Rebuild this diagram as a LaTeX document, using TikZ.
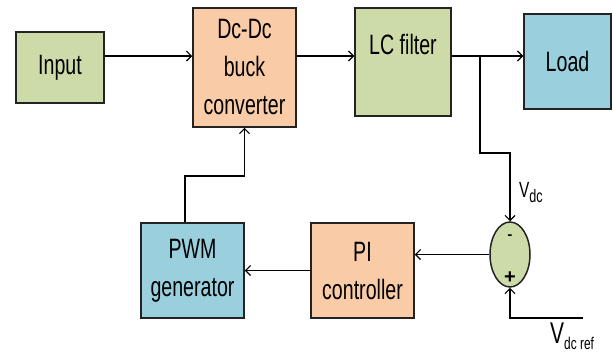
\documentclass[tikz,border=0pt]{standalone}
\usepackage{fontspec}
\setmainfont{Liberation Sans}[FakeStretch=0.7]
\newfontfamily\signfont{Liberation Sans}
\usetikzlibrary{shapes.geometric, arrows.meta, positioning, calc}
\definecolor{cGreen}{RGB}{205,219,169}
\definecolor{cOrange}{RGB}{249,203,166}
\definecolor{cBlue}{RGB}{154,207,222}
\definecolor{cEdge}{RGB}{35,35,35}
\tikzset{
	block/.style={rectangle, draw=cEdge, line width=1.5pt, text centered, align=center, font=\fontsize{28}{38}\selectfont},
	sumnode/.style={ellipse, draw=cEdge, line width=1.5pt, fill=cGreen, minimum width=40pt, minimum height=65pt, inner sep=0pt},
	signlabel/.style={inner sep=0pt, font=\fontsize{20}{20}\selectfont},
	sigarrow/.style={-{Straight Barb[length=5pt, width=10pt]}, line width=1.2pt},
}

\begin{document}
\begin{tikzpicture}[x=1pt, y=-1pt]
	\useasboundingbox (0,0) rectangle (613,354);
	% forward path
	\node[block, fill=cGreen, minimum width=88pt, minimum height=71pt] (input) at (60,67.5) {Input};
	\node[block, fill=cOrange, minimum width=103pt, minimum height=119pt] (buck) at (244.5,67.5) {Dc-Dc\\buck\\converter};
	\node[block, fill=cGreen, minimum width=96pt, minimum height=108pt, text depth=35pt] (lc) at (403,62) {LC filter};
	\node[block, fill=cBlue, minimum width=87pt, minimum height=95pt] (load) at (567.5,61.5) {Load};
	% feedback path
	\node[sumnode] (sum) at (510,254.5) {};
	\node[signlabel, anchor=center, font=\fontsize{22}{22}\selectfont] (minus) at ([yshift=-17pt]sum.north) {-};
	\node[signlabel, anchor=center, font=\signfont\bfseries\fontsize{20}{20}\selectfont] (plus) at ([yshift=10pt]sum.south) {+};
	\node[block, fill=cOrange, minimum width=103pt, minimum height=95pt] (pi) at (362.5,270.5) {PI\\controller};
	\node[block, fill=cBlue, minimum width=103pt, minimum height=95pt] (pwm) at (192.5,270.5) {PWM\\generator};
	% labels
	\node[anchor=base west, inner sep=0pt, font=\fontsize{22}{26}\selectfont] (vdclabel) at (519,197) {V\raisebox{-5pt}{\fontsize{18}{18}\selectfont dc}};
	\node[anchor=base west, inner sep=0pt, font=\fontsize{30}{34}\selectfont] (vreflabel) at (550,343) {V\raisebox{-6pt}{\fontsize{17}{17}\selectfont dc ref}};
	% connectors
	\coordinate (main) at (0,56);
	\coordinate (tap) at (480,56);
	\coordinate (fbturn) at (480,153);
	\coordinate (pwmturn) at (185,176);
	\coordinate (vref) at (583,318);
	\draw[sigarrow] (input.east |- main) -- (buck.west |- main);
	\draw[sigarrow] (buck.east |- main) -- (lc.west |- main);
	\draw[sigarrow] (lc.east |- main) -- (load.west |- main);
	\draw[sigarrow] (tap) -- (fbturn) -| (sum.north);
	\draw[sigarrow] (sum.west) -- (sum.west -| pi.east);
	\draw[sigarrow] (pi.west) -- (pwm.east);
	\draw[sigarrow] (pwm.north -| pwmturn) -- (pwmturn) -| (buck.south);
	\draw[sigarrow] (vref) -| (sum.south);
\end{tikzpicture}
\end{document}
